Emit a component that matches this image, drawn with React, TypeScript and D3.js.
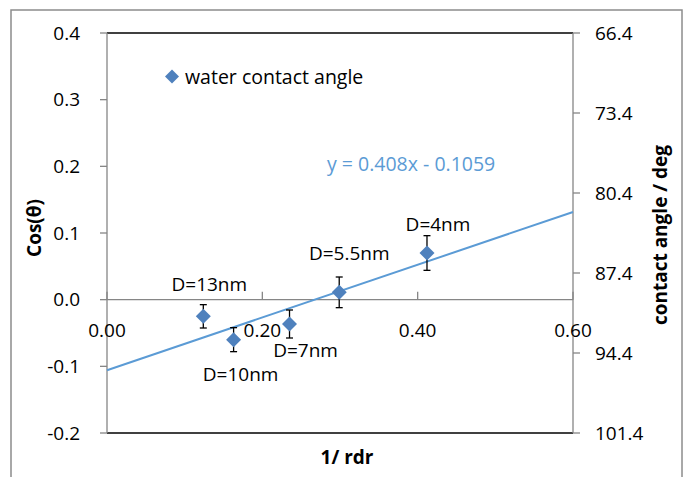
import { useMemo } from 'react';
import * as d3 from 'd3';

// points
const pointLabels = ['D=13nm', 'D=10nm', 'D=7nm', 'D=5.5nm', 'D=4nm'];
const invRdr = [0.124, 0.163, 0.235, 0.299, 0.412];
const cosTheta = [-0.025, -0.06, -0.0365, 0.011, 0.07];
const cosErr = [0.0175, 0.018, 0.021, 0.023, 0.026];

// trend line as drawn (x = 0 and x = 0.6)
const trendX = [0, 0.6];
const trendY = [-0.1058, 0.1315];
const trendText = 'y = 0.408x - 0.1059';

const xTicks = [0, 0.2, 0.4, 0.6];
const yTicks = [-0.2, -0.1, 0, 0.1, 0.2, 0.3, 0.4];
const angleTicks = [66.4, 73.4, 80.4, 87.4, 94.4, 101.4];

const W = 687;
const H = 477;
const plot = { left: 107, right: 573, top: 33, bottom: 433 };
const font = "'Open Sans', 'Noto Sans', sans-serif";
const blue = '#4f81bd';
const trendBlue = '#5b9bd5';
const axisGray = '#868686';

// label offsets from their point (dx, dy of baseline)
const labelOffsets = [
  [6, -25],
  [7, 41],
  [16, 33],
  [10, -32],
  [11, -22],
];

const diamond = (cx: number, cy: number, r: number) =>
  `M${cx},${cy - r}L${cx + r},${cy}L${cx},${cy + r}L${cx - r},${cy}Z`;

const App = () => {
  const x = useMemo(() => d3.scaleLinear().domain([0, 0.6]).range([plot.left, plot.right]), []);
  const y = useMemo(() => d3.scaleLinear().domain([-0.2, 0.4]).range([plot.bottom, plot.top]), []);
  const yAngle = useMemo(
    () => d3.scaleLinear().domain([66.4, 101.4]).range([plot.top, plot.bottom]),
    []
  );

  const trendPath = d3.line<number>()
    .x((d) => x(d))
    .y((_, i) => y(trendY[i]))(trendX);

  return (
    <svg width={W} height={H} style={{ position: 'absolute', left: 0, top: 0, background: '#fff' }}
      fontFamily={font}>
      {/* outer frame */}
      <rect x={11} y={10} width={671} height={520} fill="#fff" stroke="#8c8c8c" strokeWidth={1.5} />

      {/* top and bottom plot border */}
      <line x1={plot.left} x2={plot.right} y1={plot.top} y2={plot.top} stroke="#000" strokeWidth={1.5} />
      <line x1={plot.left} x2={plot.right} y1={plot.bottom} y2={plot.bottom} stroke="#000" strokeWidth={1.5} />

      {/* left axis */}
      <line x1={plot.left} x2={plot.left} y1={plot.top} y2={plot.bottom} stroke={axisGray} strokeWidth={1.3} />
      {yTicks.map((t) => (
        <g key={t}>
          <line x1={plot.left - 7} x2={plot.left} y1={y(t)} y2={y(t)} stroke={axisGray} strokeWidth={1.3} />
          <text x={80} y={y(t)} dy="0.35em" textAnchor="end" fontSize={19} fill="#000">
            {t.toFixed(1)}
          </text>
        </g>
      ))}

      {/* right axis */}
      <line x1={plot.right} x2={plot.right} y1={plot.top} y2={plot.bottom} stroke={axisGray} strokeWidth={1.3} />
      {angleTicks.map((t) => (
        <g key={t}>
          <line x1={plot.right} x2={plot.right + 7} y1={yAngle(t)} y2={yAngle(t)} stroke={axisGray} strokeWidth={1.3} />
          <text x={595} y={yAngle(t)} dy="0.35em" textAnchor="start" fontSize={19} fill="#000">
            {t.toFixed(1)}
          </text>
        </g>
      ))}

      {/* x axis at y = 0 */}
      <line x1={plot.left} x2={plot.right} y1={y(0)} y2={y(0)} stroke={axisGray} strokeWidth={1.3} />
      {xTicks.map((t) => (
        <g key={t}>
          <line x1={x(t)} x2={x(t)} y1={y(0) - 8} y2={y(0)} stroke={axisGray} strokeWidth={1.3} />
          <text x={x(t)} y={337} textAnchor="middle" fontSize={19} fill="#000">
            {t.toFixed(2)}
          </text>
        </g>
      ))}

      {/* trend line */}
      <path d={trendPath ?? ''} fill="none" stroke={trendBlue} strokeWidth={2} />
      <text x={327} y={171} fontSize={19.5} fill={trendBlue}>{trendText}</text>

      {/* error bars + points */}
      {invRdr.map((v, i) => {
        const cx = x(v);
        const lo = y(cosTheta[i] - cosErr[i]);
        const hi = y(cosTheta[i] + cosErr[i]);
        return (
          <g key={i}>
            <line x1={cx} x2={cx} y1={lo} y2={hi} stroke="#000" strokeWidth={1.3} />
            <line x1={cx - 3.5} x2={cx + 3.5} y1={lo} y2={lo} stroke="#000" strokeWidth={1.3} />
            <line x1={cx - 3.5} x2={cx + 3.5} y1={hi} y2={hi} stroke="#000" strokeWidth={1.3} />
            <path d={diamond(cx, y(cosTheta[i]), 7.5)} fill={blue} />
            <text x={cx + labelOffsets[i][0]} y={y(cosTheta[i]) + labelOffsets[i][1]}
              textAnchor="middle" fontSize={19} fill="#000">
              {pointLabels[i]}
            </text>
          </g>
        );
      })}

      {/* legend */}
      <path d={diamond(172, 76.5, 7)} fill={blue} />
      <text x={185} y={84} fontSize={19.5} fill="#000">water contact angle</text>

      {/* axis titles */}
      <text x={347} y={464} textAnchor="middle" fontSize={19} fontWeight="bold" fill="#000">1/ rdr</text>
      <text transform="translate(41,228) rotate(-90)" textAnchor="middle" fontSize={19} fontWeight="bold" fill="#000">
        Cos(θ)
      </text>
      <text transform="translate(667,235) rotate(-90)" textAnchor="middle" fontSize={19} fontWeight="bold" fill="#000">
        contact angle / deg
      </text>
    </svg>
  );
};

export default App;
